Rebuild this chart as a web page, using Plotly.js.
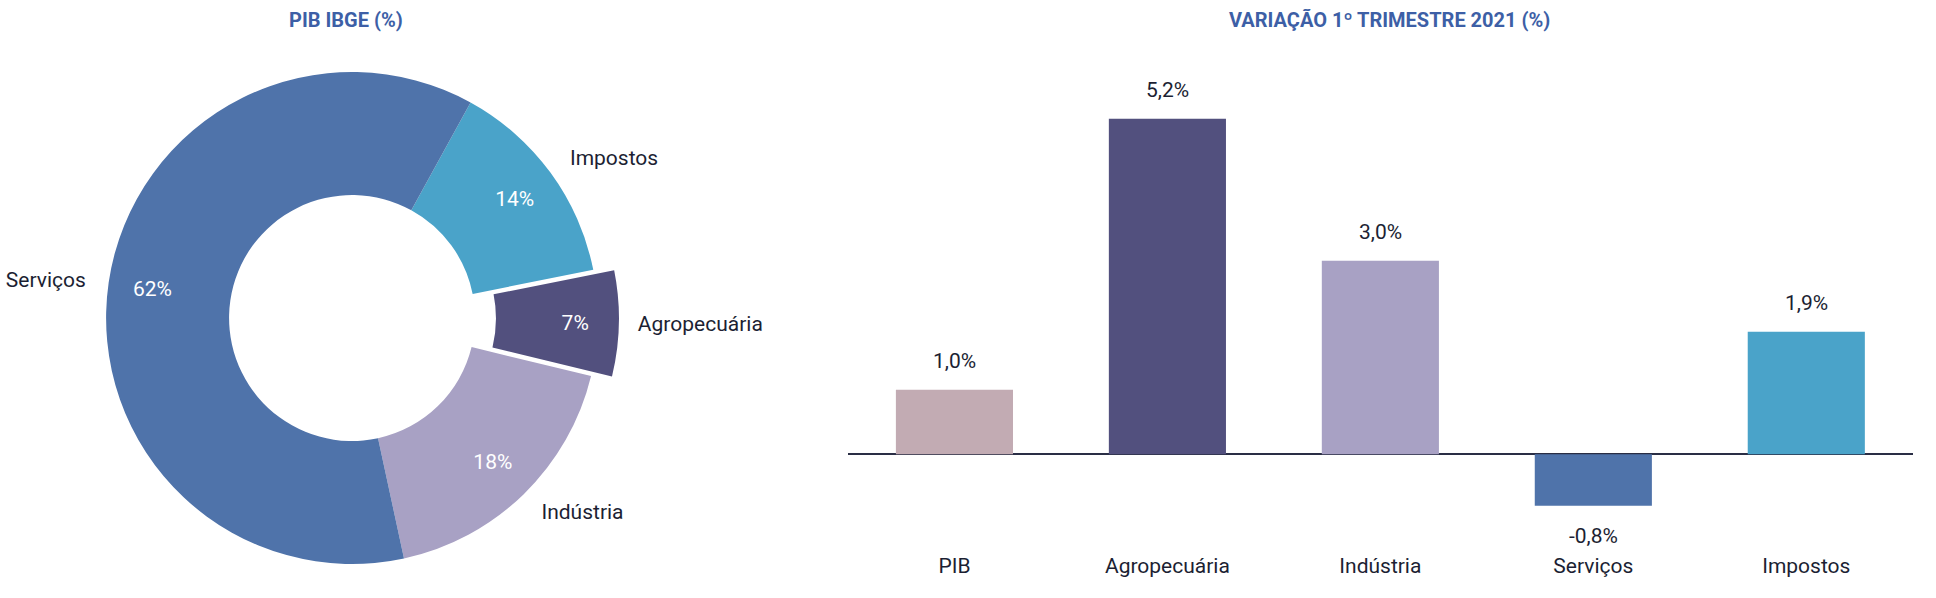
<!DOCTYPE html>
<html>
<head>
<meta charset="utf-8">
<script src="https://cdn.plot.ly/plotly-3.0.1.min.js"></script>
<style>
  html, body { margin: 0; padding: 0; background: #ffffff; }
  #chart { width: 1936px; height: 598px; }
</style>
</head>
<body>
<div id="chart"></div>
<script>
// ---- Data ----
const pieLabels = ['Impostos', 'Agropecuária', 'Indústria', 'Serviços'];
const pieValues = [14, 7, 18, 62];
const pieColors = ['#4aa3c9', '#52507e', '#a8a1c4', '#4f73aa'];
const piePull = [0, 0.085, 0, 0];
const labelPull = [0, 0.065, 0, 0];

const barCategories = ['PIB', 'Agropecuária', 'Indústria', 'Serviços', 'Impostos'];
const barValues = [1.0, 5.2, 3.0, -0.8, 1.9];
const barLabels = ['1,0%', '5,2%', '3,0%', '-0,8%', '1,9%'];
const barColors = ['#c2abb3', '#52507e', '#a8a1c4', '#4f73aa', '#4aa3c9'];

const FONT = 'Roboto, "Open Sans", sans-serif';
const TEXT = '#1c1f33';
const TITLE = '#3d5fa6';

const pieDomain = { x: [0.044, 0.3197], y: [0.0219, 0.9145] };
const labelDomain = { x: [0.0372, 0.3264], y: [0.0, 0.9365] };
const startAngle = 28.8;
const transparent = pieLabels.map(() => 'rgba(0,0,0,0)');

const commonPie = {
  type: 'pie',
  labels: pieLabels,
  values: pieValues,
  sort: false,
  direction: 'clockwise',
  rotation: startAngle,
  showlegend: false
};

const traces = [
  Object.assign({}, commonPie, {
    hole: 0.5,
    pull: piePull,
    marker: { colors: pieColors, line: { color: '#ffffff', width: 0 } },
    textinfo: 'none',
    domain: pieDomain,
    hoverinfo: 'label+value'
  }),
  Object.assign({}, commonPie, {
    hole: 0.64,
    pull: piePull,
    marker: { colors: transparent, line: { width: 0 } },
    texttemplate: '%{value}%',
    textposition: 'inside',
    insidetextorientation: 'horizontal',
    insidetextfont: { family: FONT, size: 21, color: '#ffffff' },
    domain: pieDomain,
    hoverinfo: 'skip'
  }),
  Object.assign({}, commonPie, {
    hole: 0.5,
    pull: labelPull,
    marker: { colors: transparent, line: { width: 0 } },
    textinfo: 'label',
    textposition: 'outside',
    automargin: false,
    outsidetextfont: { family: FONT, size: 21, color: TEXT },
    domain: labelDomain,
    hoverinfo: 'skip'
  }),
  {
    type: 'bar',
    x: barCategories,
    y: barValues,
    marker: { color: barColors },
    width: 0.55,
    xaxis: 'x',
    yaxis: 'y',
    showlegend: false,
    hoverinfo: 'x+y'
  }
];

const annotations = barCategories.map((c, i) => ({
  x: c,
  y: barValues[i],
  xref: 'x',
  yref: 'y',
  text: barLabels[i],
  showarrow: false,
  yanchor: barValues[i] >= 0 ? 'bottom' : 'top',
  yshift: barValues[i] >= 0 ? 15 : -16,
  font: { family: FONT, size: 21, color: TEXT }
}));

annotations.push({
  text: '<b>PIB IBGE (%)</b>',
  xref: 'paper', yref: 'paper',
  x: 0.1786, y: 0.9666, xanchor: 'center', yanchor: 'middle',
  showarrow: false,
  font: { family: FONT, size: 20, color: TITLE }
});
annotations.push({
  text: '<b>VARIAÇÃO 1º TRIMESTRE 2021 (%)</b>',
  xref: 'paper', yref: 'paper',
  x: 0.7175, y: 0.9666, xanchor: 'center', yanchor: 'middle',
  showarrow: false,
  font: { family: FONT, size: 20, color: TITLE }
});

const layout = {
  width: 1936,
  height: 598,
  margin: { l: 0, r: 0, t: 0, b: 0 },
  paper_bgcolor: '#ffffff',
  plot_bgcolor: '#ffffff',
  font: { family: FONT, color: TEXT },
  xaxis: {
    domain: [0.438, 0.988],
    range: [-0.5, 4.5],
    showgrid: false,
    showline: false,
    ticks: '',
    tickfont: { family: FONT, size: 21, color: TEXT },
    fixedrange: true
  },
  yaxis: {
    domain: [0.0786, 0.8662],
    range: [-1.5, 5.8],
    showgrid: false,
    showticklabels: false,
    zeroline: true,
    zerolinecolor: '#2a2e45',
    zerolinewidth: 2,
    fixedrange: true
  },
  annotations: annotations
};

Plotly.newPlot('chart', traces, layout, { displayModeBar: false, staticPlot: true });
</script>
</body>
</html>
